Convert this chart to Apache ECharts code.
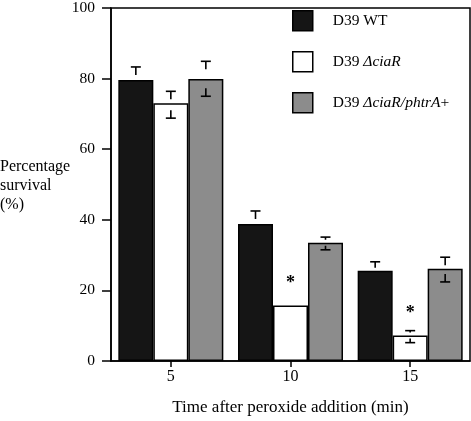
<!DOCTYPE html>
<html>
<head>
<meta charset="utf-8">
<script src="https://cdn.jsdelivr.net/npm/echarts@6/dist/echarts.min.js"></script>
<style>html,body{margin:0;padding:0;background:#fff}#c{width:471px;height:421px}</style>
</head>
<body>
<div id="c"></div>
<script>
const categories = ['5', '10', '15'];
const yTicks = [0, 20, 40, 60, 80, 100];

const wtValues = [79.6, 38.8, 25.6];
const wtHigh = [83.3, 42.5, 28.1];
const wtLow = [null, null, null];

const ciaRValues = [73.0, 15.7, 7.2];
const ciaRHigh = [76.4, null, 8.6];
const ciaRLow = [68.8, null, 5.2];
const ciaRSig = [false, true, true];

const compValues = [79.9, 33.5, 26.1];
const compHigh = [84.9, 35.1, 29.4];
const compLow = [75.0, 31.5, 22.4];

const seriesNames = ['D39 WT', 'D39 ΔciaR', 'D39 ΔciaR/phtrA+'];

const FONT = '"Liberation Serif", "DejaVu Serif", serif';
const BAR_W = 35;

function errData(vals, hi, lo) {
  return vals.map((v, i) => [i, v, hi[i] == null ? NaN : hi[i], lo[i] == null ? NaN : lo[i]]);
}

function errSeries(vals, hi, lo, slot) {
  return {
    type: 'custom',
    z: 10,
    silent: true,
    data: errData(vals, hi, lo),
    renderItem: function (params, api) {
      const idx = api.value(0);
      const x = api.coord([idx, 0])[0] + (slot - 1) * BAR_W;
      const yBar = api.coord([idx, api.value(1)])[1];
      const children = [];
      const hw = 5;
      const st = { stroke: '#000', lineWidth: 1.6 };
      const h = api.value(2), l = api.value(3);
      if (!isNaN(h)) {
        const yc = api.coord([idx, h])[1];
        const stem = Math.max(0, Math.min(8, (yBar - yc) - 3));
        children.push({ type: 'line', shape: { x1: x - hw, y1: yc, x2: x + hw, y2: yc }, style: st });
        if (stem > 0) children.push({ type: 'line', shape: { x1: x, y1: yc, x2: x, y2: yc + stem }, style: st });
      }
      if (!isNaN(l)) {
        const yc = api.coord([idx, l])[1];
        const stem = Math.max(0, Math.min(8, (yc - yBar) - 3));
        children.push({ type: 'line', shape: { x1: x - hw, y1: yc, x2: x + hw, y2: yc }, style: st });
        if (stem > 0) children.push({ type: 'line', shape: { x1: x, y1: yc, x2: x, y2: yc - stem }, style: st });
      }
      return { type: 'group', children: children };
    }
  };
}

const chart = echarts.init(document.getElementById('c'), null, { renderer: 'canvas' });

const barBorder = { borderColor: '#000', borderWidth: 1.5 };

chart.setOption({
  animation: false,
  backgroundColor: '#fff',
  textStyle: { fontFamily: FONT, color: '#000' },
  grid: { left: 111, right: 1, top: 3, bottom: 59, show: true, borderColor: '#000', borderWidth: 1.5, backgroundColor: 'transparent' },
  legend: {
    orient: 'vertical',
    left: 292,
    top: 10,
    padding: 0,
    itemWidth: 20,
    itemHeight: 20,
    itemGap: 19.5,
    icon: 'rect',
    data: seriesNames,
    selectedMode: false,
    itemStyle: { borderColor: '#000', borderWidth: 1.5 },
    textStyle: {
      fontFamily: FONT, fontSize: 15.5, color: '#000', padding: [0, 0, 0, 15], lineHeight: 20,
      rich: {
        n: { fontFamily: FONT, fontSize: 15.5, color: '#000', lineHeight: 20 },
        i: { fontFamily: FONT, fontSize: 15.5, color: '#000', fontStyle: 'italic', lineHeight: 20 }
      }
    },
    formatter: function (name) {
      if (name === seriesNames[0]) return '{n|D39 WT}';
      if (name === seriesNames[1]) return '{n|D39 }{i|ΔciaR}';
      return '{n|D39 }{i|ΔciaR/phtrA}{n|+}';
    }
  },
  xAxis: {
    type: 'category',
    data: categories,
    boundaryGap: true,
    name: 'Time after peroxide addition (min)',
    nameLocation: 'middle',
    nameGap: 38,
    nameTextStyle: { fontFamily: FONT, fontSize: 17, color: '#000' },
    axisLine: { show: true, lineStyle: { color: '#000', width: 1.5 } },
    axisTick: { show: true, alignWithLabel: true, length: 6, lineStyle: { color: '#000', width: 1.5 } },
    axisLabel: { fontFamily: FONT, fontSize: 16, color: '#000', margin: 8 },
    splitLine: { show: false }
  },
  yAxis: {
    type: 'value',
    min: yTicks[0],
    max: yTicks[yTicks.length - 1],
    interval: 20,
    axisLine: { show: true, lineStyle: { color: '#000', width: 1.5 } },
    axisTick: { show: true, length: 9, lineStyle: { color: '#000', width: 1.5 } },
    axisLabel: { fontFamily: FONT, fontSize: 15.5, color: '#000', margin: 16 },
    splitLine: { show: false }
  },
  graphic: [{
    type: 'text',
    left: 0,
    top: 157,
    style: { text: 'Percentage\nsurvival\n(%)', fontFamily: FONT, fontSize: 16, lineHeight: 19, fill: '#000' }
  }],
  series: [
    { name: seriesNames[0], type: 'bar', data: wtValues, barWidth: BAR_W, barGap: '0%', itemStyle: Object.assign({ color: '#151515' }, barBorder) },
    {
      name: seriesNames[1], type: 'bar', barWidth: BAR_W, barGap: '0%',
      itemStyle: Object.assign({ color: '#ffffff' }, barBorder),
      data: ciaRValues.map((v, i) => ({
        value: v,
        label: { show: ciaRSig[i], position: 'top', distance: 13, formatter: '*', fontFamily: FONT, fontSize: 18, fontWeight: 'bold', color: '#000' }
      }))
    },
    { name: seriesNames[2], type: 'bar', data: compValues, barWidth: BAR_W, barGap: '0%', itemStyle: Object.assign({ color: '#8c8c8c' }, barBorder) },
    errSeries(wtValues, wtHigh, wtLow, 0),
    errSeries(ciaRValues, ciaRHigh, ciaRLow, 1),
    errSeries(compValues, compHigh, compLow, 2)
  ]
});
</script>
</body>
</html>
